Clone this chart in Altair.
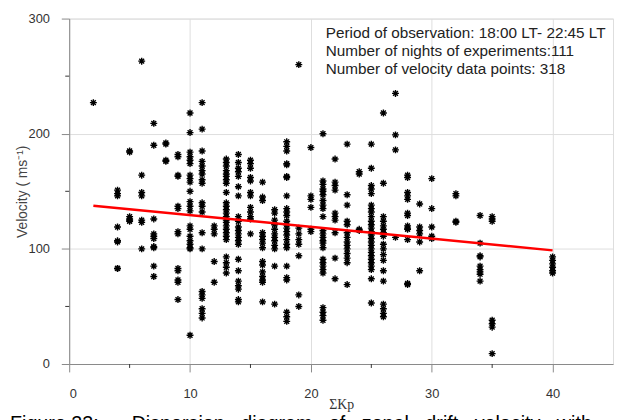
import altair as alt
import pandas as pd

# ---- velocity samples (m/s) at each sum-Kp value ----
v02 = [227]
v04 = [151, 148, 146, 119, 107, 106, 83, 83]
v05 = [185, 184, 128, 126, 124, 125]
v06 = [263, 164, 149, 146, 125, 123, 100]
v07 = [209, 190, 126, 113, 111, 109, 102, 101, 85, 76]
v08 = [192, 191, 177, 176]
v09 = [182, 180, 164, 163, 137, 135, 115, 113, 83, 81, 73, 71, 56]
v10 = [218, 201, 184, 180, 177, 174, 164, 161, 158, 150, 141, 137, 133, 120, 117, 111, 107, 104, 101, 100, 25]
v11 = [227, 204, 185, 176, 172, 168, 165, 160, 157, 140, 137, 132, 114, 100, 63, 60, 57, 48, 44, 40]
v12 = [120, 117, 113, 89, 71]
v13 = [178, 175, 172, 168, 165, 163, 160, 157, 149, 140, 137, 134, 131, 128, 125, 123, 120, 117, 114, 111, 108, 93, 88, 84, 79]
v14 = [182, 175, 170, 167, 163, 154, 146, 128, 124, 119, 116, 113, 110, 107, 104, 91, 81, 72, 68, 65, 56, 54]
v15 = [177, 174, 170, 162, 159, 149, 146, 136, 132, 128, 126, 113]
v16 = [158, 145, 142, 114, 111, 108, 105, 101, 89, 86, 80, 76, 73, 71, 54]
v17 = [134, 131, 125, 121, 117, 113, 110, 107, 103, 100, 85, 52]
v18 = [193, 189, 185, 174, 173, 163, 162, 146, 135, 132, 129, 124, 121, 118, 115, 112, 108, 104, 101, 85, 75, 73, 45, 41, 37]
v19 = [260, 118, 113, 108, 104, 94, 60, 50]
v20 = [188, 146, 143, 136, 117, 115]
v21 = [200, 159, 156, 152, 150, 147, 142, 138, 135, 128, 116, 113, 110, 107, 105, 101, 91, 88, 85, 82, 79, 49, 45, 42, 38]
v22 = [178, 158, 155, 151, 131, 128, 125, 114, 92, 74]
v23 = [191, 147, 138, 124, 121, 114, 110, 106, 103, 100, 96, 92, 88, 69]
v24 = [167, 165, 117, 116]
v25 = [191, 170, 155, 152, 148, 138, 135, 132, 128, 124, 121, 118, 115, 112, 109, 106, 103, 100, 97, 94, 91, 88, 85, 82, 74, 53]
v26 = [218, 157, 128, 124, 120, 117, 114, 111, 104, 100, 95, 90, 81, 72, 52, 48, 44, 41]
v27 = [235, 199, 186, 110]
v28 = [164, 162, 149, 146, 143, 131, 129, 120, 118, 117, 108, 70, 69]
v29 = [139, 119, 116, 113, 106, 81]
v30 = [161, 135, 119, 111, 109]
v32 = [148, 146, 124, 123]
v34 = [129, 105, 94, 93, 85, 82, 80, 78, 72]
v35 = [128, 126, 124, 38, 35, 32, 9]
v40 = [93, 90, 87, 84, 81, 79]

columns = [(2, v02), (4, v04), (5, v05), (6, v06), (7, v07), (8, v08), (9, v09),
           (10, v10), (11, v11), (12, v12), (13, v13), (14, v14), (15, v15),
           (16, v16), (17, v17), (18, v18), (19, v19), (20, v20), (21, v21),
           (22, v22), (23, v23), (24, v24), (25, v25), (26, v26), (27, v27),
           (28, v28), (29, v29), (30, v30), (32, v32), (34, v34), (35, v35),
           (40, v40)]

# linear fit line end points
fit_kp = [2, 40]
fit_v = [137.5, 98.7]

x_ticks = [0, 10, 20, 30, 40]
x_minor = [5, 15, 25, 35]
y_ticks = [0, 100, 200, 300]
y_minor = [50, 150, 250]

note_lines = ["Period of observation: 18:00 LT- 22:45 LT",
              "Number of nights of experiments:111",
              "Number of velocity data points: 318"]
caption_words = ["Figure 23:", "", "Dispersion", "diagram", "of", "zonal",
                 "drift", "velocity", "with"]
caption = "\u00a0\u00a0\u00a0".join(caption_words)

df = pd.DataFrame([{"kp": k, "v": v} for k, vs in columns for v in vs])
fit_df = pd.DataFrame({"kp": fit_kp, "v": fit_v})

xs = alt.Scale(domain=[0, 45], nice=False, zero=False)
ys = alt.Scale(domain=[0, 300], nice=False, zero=False)

ast = "M-1,0L1,0M0,-1L0,1M-0.7,-0.7L0.7,0.7M-0.7,0.7L0.7,-0.7"

points = alt.Chart(df).mark_point(
    shape=ast, size=49, filled=False, stroke="black", strokeWidth=1.4, opacity=1
).encode(
    x=alt.X("kp:Q", scale=xs, axis=alt.Axis(
        values=x_ticks, title="ΣKp", titleFont="Liberation Serif", titleFontSize=14,
        titleFontWeight="normal", titleColor="#333", titlePadding=-3,
        labelPadding=16, labelFontSize=13, labelFont="Liberation Sans",
        labelColor="#333", tickSize=8)),
    y=alt.Y("v:Q", scale=ys, axis=alt.Axis(
        values=y_ticks, title="Velocity ( ms⁻¹)", titleFont="Liberation Sans",
        titleFontSize=14, titleFontWeight="normal", titleColor="#444",
        titlePadding=-1, labelPadding=12, labelFontSize=13,
        labelFont="Liberation Sans", labelColor="#333", tickSize=8)),
)

fit = alt.Chart(fit_df).mark_line(color="#ff0000", strokeWidth=2.5).encode(
    x=alt.X("kp:Q", scale=xs),
    y=alt.Y("v:Q", scale=ys),
)

minor_x = alt.Chart(pd.DataFrame({"kp": x_minor})).mark_rule(color="#333").encode(
    x=alt.X("kp:Q", scale=xs),
    y=alt.value(350), y2=alt.value(354),
)

minor_y = alt.Chart(pd.DataFrame({"v": y_minor})).mark_rule(color="#333").encode(
    y=alt.Y("v:Q", scale=ys),
    x=alt.value(-4), x2=alt.value(0),
)

note = alt.Chart(pd.DataFrame({"a": [0]})).mark_text(
    align="left", baseline="top", font="Liberation Sans", fontSize=15.5,
    lineHeight=18, color="#222"
).encode(x=alt.value(260), y=alt.value(8), text=alt.value(note_lines))

cap = alt.Chart(pd.DataFrame({"a": [0]})).mark_text(
    align="left", baseline="top", font="Liberation Sans", fontSize=20, color="#000"
).encode(x=alt.value(-60), y=alt.value(401), text=alt.value(caption))

chart = alt.layer(points, fit, minor_x, minor_y, note, cap).properties(
    width=551, height=350,
    padding={"left": 62, "top": 8, "right": 1, "bottom": 54},
    autosize=alt.AutoSizeParams(type="none"),
).configure_view(
    stroke="#333", strokeWidth=1
).configure_axis(
    grid=False, domainColor="#333", tickColor="#333",
).configure(background="white")

chart.save("out.html", embed_options={"renderer": "svg", "actions": False})
